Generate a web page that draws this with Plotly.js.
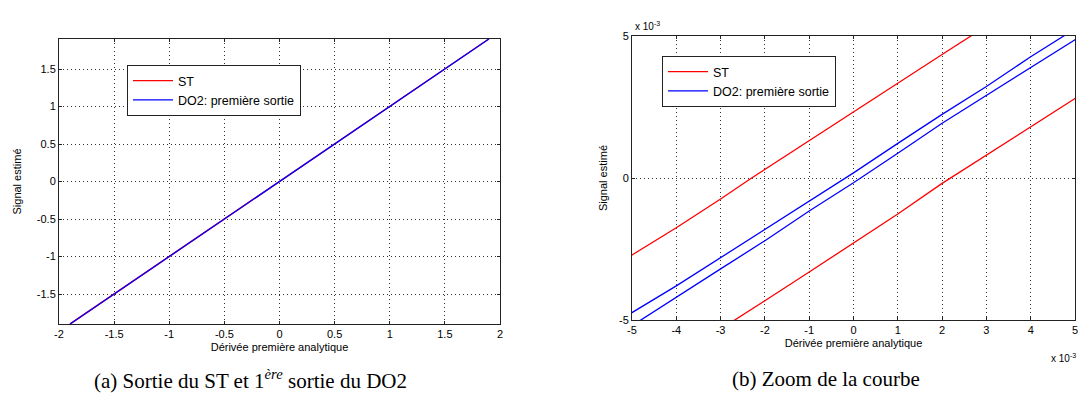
<!DOCTYPE html>
<html>
<head>
<meta charset="utf-8">
<script src="https://cdn.plot.ly/plotly-3.0.1.min.js"></script>
<style>html,body{margin:0;padding:0;background:#fff;}#chart{width:1080px;height:405px;}</style>
</head>
<body>
<div id="chart"></div>
<script>
// ST output: rising branch then falling branch (hysteresis loop)
const stX = [-1.9, -0.005, -0.004, -0.003, -0.0023, -0.001, 0, 0.001, 0.002, 0.003, 1.9,
             1.9, 0.005, 0.004, 0.003, 0.002, 0.001, 0, -0.001, -0.002, -0.003, -1.9];
const stY = [-1.8977, -0.00271, -0.00175, -0.00074, 0, 0.00132, 0.00233, 0.00333, 0.00435, 0.00535, 1.9023,
             1.8977, 0.0028, 0.0018, 0.0008, -0.00019, -0.00127, -0.0023, -0.00331, -0.00432, -0.00533, -1.9023];
// DO2 first output
const doX = [-1.9, -0.005, -0.004, -0.003, -0.002, -0.001, 0, 0.001, 0.002, 0.003, 0.004, 0.005, 1.9,
             1.9, 0.005, 0.004, 0.003, 0.002, 0.001, 0, -0.001, -0.002, -0.003, -0.004, -0.005, -1.9];
const doY = [-1.8998, -0.00474, -0.0038, -0.0028, -0.00183, -0.00081, 0.00018, 0.00122, 0.00224, 0.00322, 0.00427, 0.00525, 1.9002,
             1.8998, 0.00487, 0.00388, 0.0029, 0.00193, 0.00087, -0.00017, -0.00116, -0.00221, -0.0032, -0.0042, -0.0052, -1.9002];

const seriesNames = ['ST', 'DO2: première sortie'];
const axisXLabel = 'Dérivée première analytique';
const axisYLabel = 'Signal estimé';
const captionA = '(a) Sortie du ST et 1<sup><i>ère</i></sup> sortie du DO2';
const captionB = '(b) Zoom de la courbe';

const leftXTicks = [-2, -1.5, -1, -0.5, 0, 0.5, 1, 1.5, 2];
const leftXText = ['-2', '-1.5', '-1', '-0.5', '0', '0.5', '1', '1.5', '2'];
const leftYTicks = [-1.5, -1, -0.5, 0, 0.5, 1, 1.5];
const leftYText = ['-1.5', '-1', '-0.5', '0', '0.5', '1', '1.5'];
const rightXTicks = [-0.005, -0.004, -0.003, -0.002, -0.001, 0, 0.001, 0.002, 0.003, 0.004, 0.005];
const rightXText = ['-5', '-4', '-3', '-2', '-1', '0', '1', '2', '3', '4', '5'];
const rightYTicks = [-0.005, 0, 0.005];
const rightYText = ['-5', '0', '5'];
const expLabel = 'x 10<sup>-3</sup>';

const FONT = 'Liberation Sans, Arial, sans-serif';
const SERIF = 'Liberation Serif, Times New Roman, serif';
const RED = '#ff0000', BLUE = '#0000ff';

const traces = [
  {x: stX, y: stY, name: seriesNames[0], type: 'scatter', mode: 'lines', line: {color: RED, width: 1.3}, xaxis: 'x', yaxis: 'y', legend: 'legend'},
  {x: doX, y: doY, name: seriesNames[1], type: 'scatter', mode: 'lines', line: {color: BLUE, width: 1.3}, xaxis: 'x', yaxis: 'y', legend: 'legend'},
  {x: stX, y: stY, name: seriesNames[0], type: 'scatter', mode: 'lines', line: {color: RED, width: 1.3}, xaxis: 'x2', yaxis: 'y2', legend: 'legend2'},
  {x: doX, y: doY, name: seriesNames[1], type: 'scatter', mode: 'lines', line: {color: BLUE, width: 1.3}, xaxis: 'x2', yaxis: 'y2', legend: 'legend2'}
];

const W = 1080, H = 405;
const px = v => v / W, py = v => 1 - v / H;

function ax(extra) {
  return Object.assign({
    showline: true, mirror: 'ticks', linecolor: '#222', linewidth: 1,
    showgrid: true, gridcolor: '#333', griddash: '1px,3px', gridwidth: 1,
    zeroline: false, ticks: 'inside', ticklen: 3, tickcolor: '#222',
    tickmode: 'array', tickfont: {family: FONT, size: 11, color: '#000'},
    fixedrange: true
  }, extra);
}

const legendStyle = {xanchor: 'left', yanchor: 'top', bgcolor: '#fff', bordercolor: '#222', borderwidth: 1,
  font: {family: FONT, size: 12.5}, tracegroupgap: 0, itemclick: false, itemwidth: 40};

const layout = {
  width: W, height: H,
  margin: {l: 0, r: 0, t: 0, b: 0},
  paper_bgcolor: '#fff', plot_bgcolor: '#fff',
  font: {family: FONT, size: 11, color: '#000'},
  xaxis: ax({domain: [px(59), px(500)], range: [-2, 2], tickvals: leftXTicks, ticktext: leftXText,
    anchor: 'y', title: {text: axisXLabel, font: {size: 11}, standoff: 4}}),
  yaxis: ax({domain: [py(324), py(39)], range: [-1.9, 1.9], tickvals: leftYTicks, ticktext: leftYText,
    anchor: 'x', title: {text: axisYLabel, font: {size: 11}, standoff: 12}}),
  xaxis2: ax({domain: [px(632), px(1075)], range: [-0.005, 0.005], tickvals: rightXTicks, ticktext: rightXText,
    anchor: 'y2', title: {text: axisXLabel, font: {size: 11}, standoff: 4}}),
  yaxis2: ax({domain: [py(320), py(36)], range: [-0.005, 0.005], tickvals: rightYTicks, ticktext: rightYText,
    anchor: 'x2', title: {text: axisYLabel, font: {size: 11}, standoff: 9}}),
  legend: Object.assign({x: px(127), y: py(65)}, legendStyle),
  legend2: Object.assign({x: px(662), y: py(56)}, legendStyle),
  annotations: [
    {text: captionA, xref: 'paper', yref: 'paper', x: px(250), y: py(379), xanchor: 'center', yanchor: 'middle', showarrow: false,
      font: {family: SERIF, size: 21, color: '#000'}},
    {text: captionB, xref: 'paper', yref: 'paper', x: px(826), y: py(379), xanchor: 'center', yanchor: 'middle', showarrow: false,
      font: {family: SERIF, size: 21, color: '#000'}},
    {text: expLabel, xref: 'paper', yref: 'paper', x: px(633), y: py(34), xanchor: 'left', yanchor: 'bottom', showarrow: false,
      font: {family: FONT, size: 10, color: '#000'}},
    {text: expLabel, xref: 'paper', yref: 'paper', x: px(1078), y: py(350), xanchor: 'right', yanchor: 'top', showarrow: false,
      font: {family: FONT, size: 10, color: '#000'}}
  ]
};

Plotly.newPlot('chart', traces, layout, {displayModeBar: false, staticPlot: true});
</script>
</body>
</html>
